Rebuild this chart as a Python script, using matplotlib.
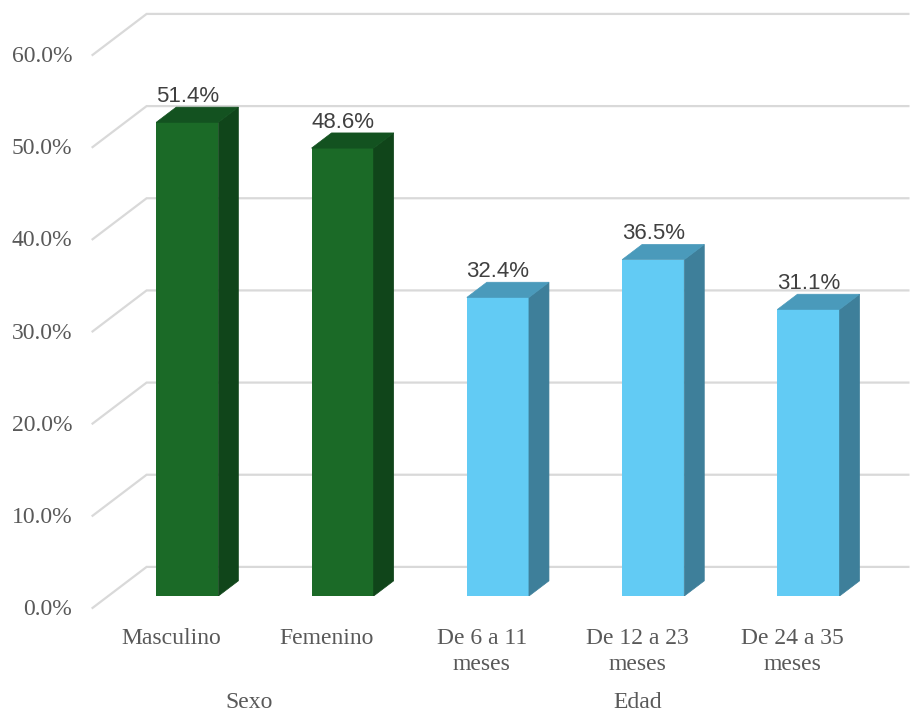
import matplotlib
matplotlib.use("Agg")
from matplotlib import pyplot as plt
from matplotlib.patches import Polygon
from matplotlib.transforms import ScaledTranslation, blended_transform_factory

categories = ["Masculino", "Femenino", "De 6 a 11\nmeses", "De 12 a 23\nmeses", "De 24 a 35\nmeses"]
values = [51.4, 48.6, 32.4, 36.5, 31.1]
groups = ["Sexo", "Sexo", "Edad", "Edad", "Edad"]
group_names = ["Sexo", "Edad"]
yticks = [0, 10, 20, 30, 40, 50, 60]

# front / side / top shades for each group
palette = {
    "Sexo": ("#1B6A27", "#10451A", "#135220"),
    "Edad": ("#62CBF4", "#3E7F9A", "#4A9ABB"),
}

# oblique depth: moving one full depth unit shifts a point by (DX, DY) data units
DX, DY = 0.348, 4.45
Z_BAR_FRONT, Z_BAR_BACK = 0.29, 0.66
BAR_W = 0.4
WALL_X = -0.509
RIGHT_X = 4.396
GRID = "#D9D9D9"
SERIF = "Liberation Serif"
SANS = "Liberation Sans"


def project(x, y, z):
    """Map a point at depth z onto the bar-front plane used by the axes."""
    return x + (z - Z_BAR_FRONT) * DX, y + (z - Z_BAR_FRONT) * DY


fig = plt.figure(figsize=(9.1, 7.15), dpi=100)
ax = fig.add_axes([0.1, 0.1664, 0.8989, 0.7734])
ax.set_xlim(-0.62, 4.647)
ax.set_ylim(0, 60)
for s in ax.spines.values():
    s.set_visible(False)

# back wall gridlines plus the slanted side-wall edges
for v in yticks:
    x0, y0 = project(WALL_X, v, 0)
    x1, y1 = project(WALL_X, v, 1)
    x2, y2 = project(RIGHT_X, v, 1)
    ax.plot([x0, x1, x2], [y0, y1, y2], color=GRID, lw=1.6,
            clip_on=False, zorder=1, solid_joinstyle="miter")

# bars: front face via ax.bar, side and top faces as polygons
d_x = (Z_BAR_BACK - Z_BAR_FRONT) * DX
d_y = (Z_BAR_BACK - Z_BAR_FRONT) * DY
for i, (v, g) in enumerate(zip(values, groups)):
    front, side, top = palette[g]
    ax.bar(i, v, width=BAR_W, color=front, zorder=3, linewidth=0)
    xl, xr = i - BAR_W / 2, i + BAR_W / 2
    ax.add_patch(Polygon([(xr, 0), (xr, v), (xr + d_x, v + d_y), (xr + d_x, d_y)],
                         closed=True, facecolor=side, edgecolor=side, lw=0.5, zorder=3))
    ax.add_patch(Polygon([(xl, v), (xr, v), (xr + d_x, v + d_y), (xl + d_x, v + d_y)],
                         closed=True, facecolor=top, edgecolor=top, lw=0.5, zorder=3))
    ax.text(i, v + d_y, f"{v:.1f}%", ha="center", va="bottom",
            fontsize=16, family=SANS, color="#404040", zorder=4)

ax.set_yticks(yticks)
ax.set_yticklabels([f"{v:.1f}%" for v in yticks])
ax.set_xticks(range(len(categories)))
ax.set_xticklabels(categories)
ax.tick_params(axis="both", length=0, labelsize=17, labelcolor="#595959")
ax.tick_params(axis="y", pad=13.5)
ax.tick_params(axis="x", pad=23)

down = ScaledTranslation(0, -0.11, fig.dpi_scale_trans)
for lab in ax.get_yticklabels():
    lab.set_family(SERIF)
    lab.set_transform(lab.get_transform() + down)

left = ScaledTranslation(-0.16, 0, fig.dpi_scale_trans)
for lab in ax.get_xticklabels():
    lab.set_family(SERIF)
    lab.set_linespacing(1.3)
    lab.set_transform(lab.get_transform() + left)

# group names under the category labels
trans = blended_transform_factory(ax.transData, ax.transAxes) + left
for name in group_names:
    idx = [i for i, g in enumerate(groups) if g == name]
    xc = (idx[0] + idx[-1]) / 2
    ax.text(xc, -0.193, name, transform=trans, ha="center", va="center",
            fontsize=17, family=SERIF, color="#595959")

fig.savefig("out.png", dpi=100)
